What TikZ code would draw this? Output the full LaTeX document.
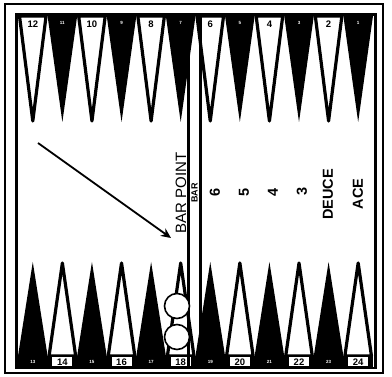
\documentclass[tikz,border=0pt]{standalone}
\usepackage{fontspec}
\setmainfont{Liberation Sans}
\usetikzlibrary{arrows.meta}
\tikzset{
  whitept/.style={fill=white,draw=black,line width=3.2pt,line join=round},
  ptnum/.style={font=\bfseries\fontsize{9.5}{9.5}\selectfont,inner sep=0pt},
  darknum/.style={text=white,font=\bfseries\fontsize{4.5}{4.5}\selectfont,inner sep=0pt},
  numbox/.style={ptnum,fill=white,minimum width=20pt,minimum height=9pt},
  sidetext/.style={rotate=90,font=\fontsize{15}{15}\selectfont,inner sep=0pt},
  boldside/.style={sidetext,font=\bfseries\fontsize{14.5}{14.5}\selectfont},
  checker/.style={circle,draw=black,fill=white,line width=1.6pt,minimum size=25pt,inner sep=0pt},
}
\begin{document}
\begin{tikzpicture}[x=1pt,y=-1pt]
\useasboundingbox (0,0) rectangle (392,377);
\draw[line width=1.2pt] (5,4) rectangle (383,373);
\fill (18,356) rectangle (373,368);

\foreach \i [evaluate=\i as \xa using 18+\i*29.58,
             evaluate=\i as \xb using 18+(\i+1)*29.58,
             evaluate=\i as \xc using 18+(\i+0.5)*29.58] in {0,...,11}{
  \pgfmathtruncatemacro{\tn}{12-\i}
  \pgfmathtruncatemacro{\bn}{13+\i}
  \ifodd\i
    \fill (\xa,16) -- (\xb,16) -- (\xc,122) -- cycle;
    \node[darknum] (top\i) at (\xc,23) {\tn};
    \draw[whitept] (\xa+1.5,356) -- (\xb-1.5,356) -- (\xc,263) -- cycle;
    \node[numbox] (bot\i) at (\xc,362) {\bn};
  \else
    \draw[whitept] (\xa+1.5,16) -- (\xb-1.5,16) -- (\xc,121) -- cycle;
    \node[ptnum] (top\i) at (\xc,24) {\tn};
    \fill (\xa,356) -- (\xb,356) -- (\xc,262) -- cycle;
    \node[darknum] (bot\i) at (\xc,362) {\bn};
  \fi
}

\draw[line width=2.2pt] (188.5,15) -- (188.5,368) (200.5,15) -- (200.5,368);
\draw[line width=2.8pt] (16.5,14.5) rectangle (375.5,368);

\node[checker] (chka) at (177,306) {};
\node[checker] (chkb) at (177,337) {};

\node[sidetext] (barpoint) at (181,193) {BAR POINT};
\node[rotate=90,font=\bfseries\fontsize{9}{9}\selectfont,inner sep=0pt] (bar) at (194.5,193) {BAR};
\node[boldside] (six) at (215,192) {6};
\node[boldside] (five) at (244,192) {5};
\node[boldside] (four) at (273,192) {4};
\node[boldside] (three) at (302,191) {3};
\node[boldside] (deuce) at (328,194.5) {DEUCE};
\node[boldside] (ace) at (358,194) {ACE};

\coordinate (arrowtail) at (38,143);
\coordinate (arrowtip) at (171,238);
\draw[line width=1.8pt,-{Stealth[length=10pt,width=9pt]}] (arrowtail) -- (arrowtip);
\end{tikzpicture}
\end{document}
